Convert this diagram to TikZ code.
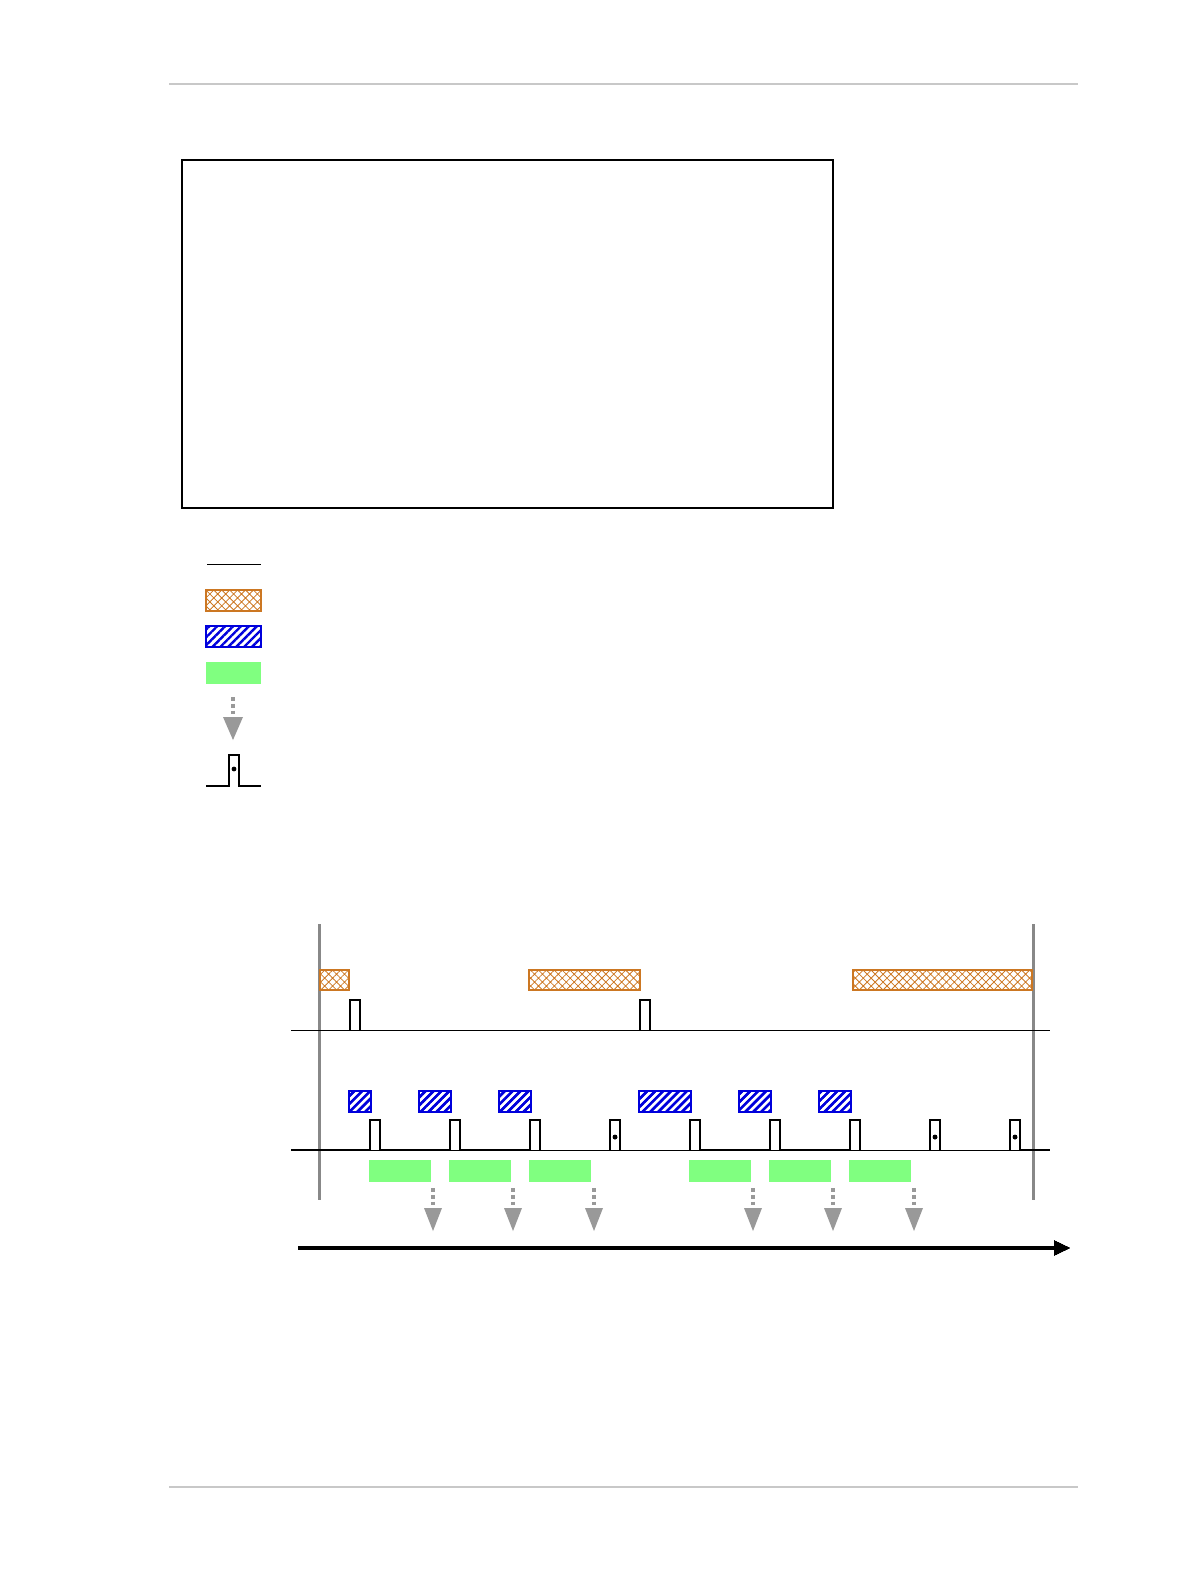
\documentclass[tikz,border=0pt]{standalone}
\usetikzlibrary{arrows.meta,patterns.meta}
\definecolor{hatchorange}{RGB}{204,119,34}
\definecolor{slotblue}{RGB}{0,0,220}
\definecolor{busygreen}{RGB}{128,255,128}
\definecolor{framegray}{RGB}{136,136,136}
\definecolor{rulegray}{RGB}{200,200,200}
\definecolor{dropgray}{RGB}{153,153,153}
\tikzset{
  orangebox/.style={draw=hatchorange, line width=0.9pt,
    pattern={Hatch[angle=45,distance=2.8pt,line width=0.4pt]}, pattern color=hatchorange},
  bluebox/.style={draw=slotblue, line width=0.9pt,
    pattern={Lines[angle=45,distance=2.8pt,line width=1.2pt]}, pattern color=slotblue},
  greenbox/.style={fill=busygreen},
  pulseline/.style={line width=1.2pt, line join=miter},
  thinline/.style={line width=0.5pt},
  thickline/.style={line width=1.1pt},
  framebar/.style={framegray, line width=1.5pt}
}
\newcommand{\dropmark}[3]{%
  \draw[dropgray, line width=2.2pt, dash pattern=on 2pt off 1.4pt] (#1,#2) -- (#1,#2+17);
  \fill[dropgray] (#1-#3,#2+20) -- (#1+#3,#2+20) -- (#1,#2+43) -- cycle;}
\newcommand{\pulseat}[2]{%
  \draw[pulseline] (#1,#2) -- (#1,#2-30) -- (#1+10,#2-30) -- (#1+10,#2);}
\begin{document}
\begin{tikzpicture}[x=0.5pt,y=-0.5pt]
\useasboundingbox (0,0) rectangle (1190,1580);
\draw[rulegray, line width=1pt] (169,84) -- (1078,84);
\draw[rulegray, line width=0.6pt] (169,1487) -- (1078,1487);
\draw[line width=0.6pt] (182,160) rectangle (833,508);
% legend
\draw[thinline] (207,564) -- (261,564);
\draw[orangebox] (206,590) rectangle (261,611);
\draw[bluebox] (206,626) rectangle (261,647);
\fill[greenbox] (206,662) rectangle (261,684);
\dropmark{233}{697}{10}
\draw[pulseline] (206,786) -- (229,786) -- (229,755) -- (239,755) -- (239,786) -- (261,786);
\fill (234,769) circle [radius=1.2pt];
% timing
\draw[framebar] (319,924) -- (319,1200);
\draw[framebar] (1033,924) -- (1033,1200);
\draw[orangebox] (320,970) rectangle (349,990);
\draw[orangebox] (529,970) rectangle (640,990);
\draw[orangebox] (853,970) rectangle (1032,990);
\draw[thinline] (291,1030) -- (1050,1030);
\foreach \x in {350,640} \pulseat{\x}{1030}
\foreach \a/\b in {349/370,419/450,499/530,639/690,739/770,819/850}
  \draw[bluebox] (\a,1091) rectangle (\b+1,1112);
\draw[thinline] (291,1150) -- (1050,1150);
\foreach \a/\b in {291/370,380/450,460/530,700/770,780/850,1020/1050}
  \draw[thickline] (\a,1150) -- (\b,1150);
\foreach \x in {370,450,530,690,770,850} \pulseat{\x}{1150}
\foreach \x in {610,930,1010} {
  \pulseat{\x}{1150}
  \fill (\x+5,1137) circle [radius=1.1pt];
}
\foreach \a in {369,449,529,689,769,849}
  \fill[greenbox] (\a,1160) rectangle (\a+62,1182);
\foreach \x in {433,513,594,753,833,914} \dropmark{\x}{1188}{9}
\draw[line width=1.8pt, -{Triangle[length=8pt,width=7pt]}] (298,1248) -- (1070,1248);
\end{tikzpicture}
\end{document}
